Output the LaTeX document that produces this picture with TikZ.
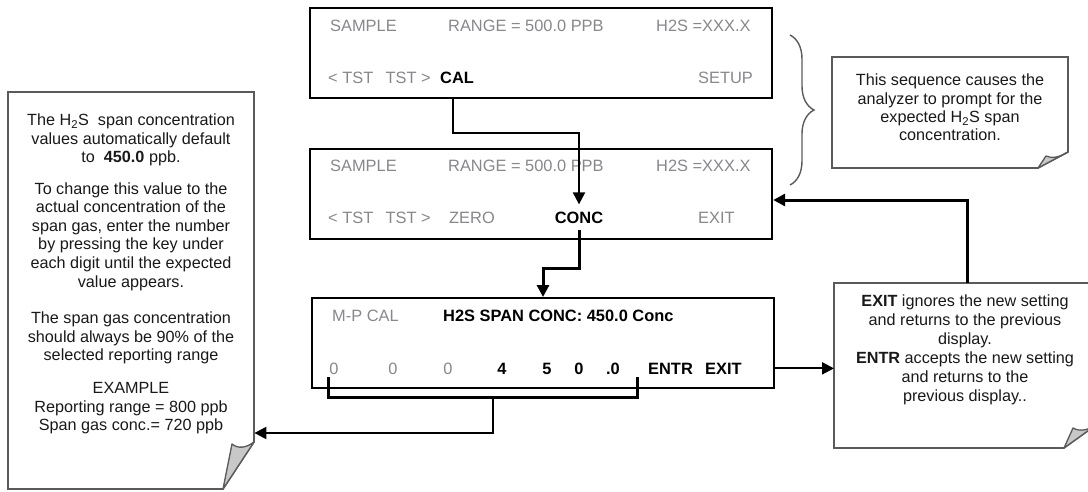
\documentclass[tikz,border=0pt]{standalone}
\usepackage{fontspec}
\setmainfont{Liberation Sans}
\usetikzlibrary{arrows.meta,calc,decorations.pathreplacing}
\definecolor{scrgray}{RGB}{135,135,140}
\definecolor{notegray}{RGB}{90,90,90}
\definecolor{flapgray}{RGB}{200,200,200}
\begin{document}
\begin{tikzpicture}[x=1pt,y=-1pt,
  screen/.style={draw=black,line width=2.2pt,minimum width=462pt,minimum height=90pt,anchor=north west,inner sep=0pt},
  st/.style={font=\fontsize{16.4}{18}\selectfont,inner sep=0pt,anchor=base west,text=scrgray},
  sb/.style={font=\fontsize{16.4}{18}\selectfont\bfseries,inner sep=0pt,anchor=base west,text=black},
  notebox/.style={anchor=north west,inner sep=0pt,draw=none},
  noteline/.style={draw=notegray,line width=1.6pt,fill=white,line join=miter},
  flap/.style={draw=notegray,line width=1.3pt,fill=flapgray,line join=round},
  nt/.style={align=center,inner sep=0pt,text=black!90},
  conna/.style={draw=black,line width=2.2pt,-{Triangle[length=12pt,width=12pt]}},
  connb/.style={draw=black,line width=3pt,-{Triangle[length=12pt,width=12pt]}},
  brk/.style={draw=black,line width=3pt},
  bracestyle/.style={draw=notegray,line width=1.4pt,decorate,decoration={brace,amplitude=24pt}}
]
\useasboundingbox (0,0) rectangle (1088,491);

% ---------- screens ----------
\node[screen] (s1) at (309,7) {};
\node[screen] (s2) at (309,148) {};
\node[screen] (s3) at (311,297) {};

% screen 1
\node[st] (t1a) at (330,31) {SAMPLE};
\node[st] (t1b) at (448,31) {RANGE = 500.0 PPB};
\node[st] (t1c) at (656,31) {H2S =XXX.X};
\node[st] (t1d) at (328,83) {< TST\hspace{0.75em}TST >};
\node[sb] (cal) at (440,83) {CAL};
\node[st] (t1e) at (698,83) {SETUP};

% screen 2
\node[st] (t2a) at (330,171) {SAMPLE};
\node[st] (t2b) at (448,171) {RANGE = 500.0 PPB};
\node[st] (t2c) at (656,171) {H2S =XXX.X};
\node[st] (t2d) at (328,223) {< TST\hspace{0.75em}TST >};
\node[st] (zero) at (449,223) {ZERO};
\node[sb,anchor=base] (conc) at (579,223) {CONC};
\node[st] (exit2) at (698,223) {EXIT};

% screen 3
\node[st] (mpcal) at (332,321) {M-P CAL};
\node[sb] (span) at (443,321) {H2S SPAN CONC: 450.0 Conc};
\node[st,anchor=base] (d1) at (334,374) {0};
\node[st,anchor=base] (d2) at (393,374) {0};
\node[st,anchor=base] (d3) at (448,374) {0};
\node[sb,anchor=base] (d4) at (502,374) {4};
\node[sb,anchor=base] (d5) at (547,374) {5};
\node[sb,anchor=base] (d6) at (579,374) {0};
\node[sb,anchor=base] (d7) at (613,374) {.0};
\node[sb] (entr) at (648,374) {ENTR};
\node[sb] (exit3) at (705,374) {EXIT};

% ---------- notes ----------
\node[notebox,minimum width=246pt,minimum height=397pt] (n1) at (8,92) {};
\path[noteline] (8,92) -- (254,92) -- (254,442) -- (223,489) -- (8,489) -- cycle;
\path[flap] (223,489) -- (232,444) .. controls (238,449) and (246,448) .. (254,442) -- cycle;
\node[nt,font=\fontsize{16.2}{18.4}\selectfont] (p1) at (131,140) {The H\textsubscript{2}S\ \ span concentration\\values automatically default\\to\ \ \textbf{450.0} ppb.};
\node[nt,font=\fontsize{16.2}{18.6}\selectfont] (p2) at (131,236.5) {To change this value to the\\actual concentration of the\\span gas, enter the number\\by pressing the key under\\each digit until the expected\\value appears.};
\node[nt,font=\fontsize{16.2}{18.6}\selectfont] (p3) at (131,338) {The span gas concentration\\should always be 90\% of the\\selected reporting range};
\node[nt,font=\fontsize{16.2}{18.5}\selectfont] (p4) at (131,408.5) {EXAMPLE\\Reporting range = 800 ppb\\Span gas conc.= 720 ppb};

\node[notebox,minimum width=236pt,minimum height=111pt] (n2) at (832,57) {};
\path[noteline] (832,57) -- (1068,57) -- (1068,152) -- (1038,168) -- (832,168) -- cycle;
\path[flap] (1038,168) -- (1046,156) .. controls (1052,159) and (1060,157) .. (1068,152) -- cycle;
\node[nt,font=\fontsize{16.2}{18.3}\selectfont] (q1) at (950,107.5) {This sequence causes the\\analyzer to prompt for the\\expected H\textsubscript{2}S span\\concentration.};

\node[notebox,minimum width=262pt,minimum height=165pt] (n3) at (834,283) {};
\path[noteline] (834,283) -- (1096,283) -- (1096,425) -- (1064,448) -- (834,448) -- cycle;
\path[flap] (1064,448) -- (1073,428) .. controls (1080,432) and (1088,430) .. (1096,425) -- cycle;
\node[nt,font=\fontsize{16.2}{19}\selectfont] (r1) at (965,349.5) {\textbf{EXIT} ignores the new setting\\and returns to the previous\\display.\\\textbf{ENTR} accepts the new setting\\and returns to the\\previous display..};

% ---------- brace ----------
\coordinate (bra) at (790,35);
\coordinate (brb) at (790,185);
\draw[bracestyle] (bra) -- (brb);

% ---------- connectors ----------
\coordinate (c1turn) at (453,133);
\draw[conna] (c1turn |- s1.south) -- (c1turn) -| ([yshift=7pt]conc.north);

\coordinate (c2turn) at (543,268);
\draw[connb] ([yshift=-7pt]conc.south) |- (c2turn) -- (c2turn |- s3.north);

\coordinate (bl) at (328,377);
\coordinate (br) at (637,377);
\coordinate (bm) at (493,397);
\coordinate (bt) at (493,433);
\draw[brk] (bl) |- (bm) -| (br);
\draw[conna] (bm) -- (bt) -- (bt -| n1.east);

\draw[conna] (s3.east |- entr) -- (n3.west |- entr);

\coordinate (c5) at (967,200);
\draw[connb] (c5 |- n3.north) -- (c5) -- (c5 -| s2.east);
\end{tikzpicture}
\end{document}
